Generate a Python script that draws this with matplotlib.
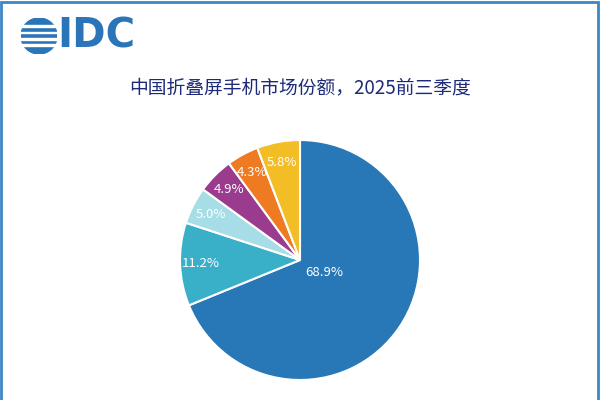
import matplotlib.pyplot as plt
from matplotlib.patches import Rectangle, Circle

plt.rcParams['font.family'] = ['Noto Sans CJK SC', 'DejaVu Sans']

shares = [68.9, 11.2, 5.0, 4.9, 4.3, 5.8]
labels = ['68.9%', '11.2%', '5.0%', '4.9%', '4.3%', '5.8%']
colors = ['#2878b8', '#3aafc8', '#a6dde6', '#9a3b8e', '#ee7b22', '#f2bd25']
title = '中国折叠屏手机市场份额，2025前三季度'

fig = plt.figure(figsize=(6, 4), dpi=100)
fig.patches.append(Rectangle((0.002, -0.1), 0.994, 1.095, transform=fig.transFigure,
                             fill=False, edgecolor='#3b86c6', linewidth=2))

# logo
lax = fig.add_axes([0.035, 0.865, 0.06, 0.09])
lax.set_xlim(-1, 1)
lax.set_ylim(-1, 1)
lax.set_aspect('equal')
lax.axis('off')
lax.add_patch(Circle((0, 0), 1, color='#2a74b8'))
for yy in [-0.55, -0.2, 0.15, 0.5]:
    lax.add_patch(Rectangle((-1.1, yy), 2.2, 0.1, color='white'))
fig.text(0.095, 0.91, 'IDC', fontsize=29, color='#2a74b8', fontweight='bold',
         family='DejaVu Sans', va='center', ha='left')

fig.text(0.5, 0.78, title, fontsize=13.5, color='#1d2a78', ha='center', va='center')

ax = fig.add_axes([0.3, 0.05, 0.4, 0.6])
wedges, texts = ax.pie(shares, colors=colors, startangle=90, counterclock=False,
                       labels=labels, labeldistance=0.83,
                       wedgeprops=dict(edgecolor='white', linewidth=1.5),
                       textprops=dict(color='white', fontsize=9.5))
for t in texts:
    t.set_ha('center')
    t.set_va('center')
texts[0].set_position((0.2, -0.1))
ax.set_xlim(-1, 1)
ax.set_ylim(-1, 1)
ax.set_aspect('equal')

fig.savefig('out.png', dpi=100)
